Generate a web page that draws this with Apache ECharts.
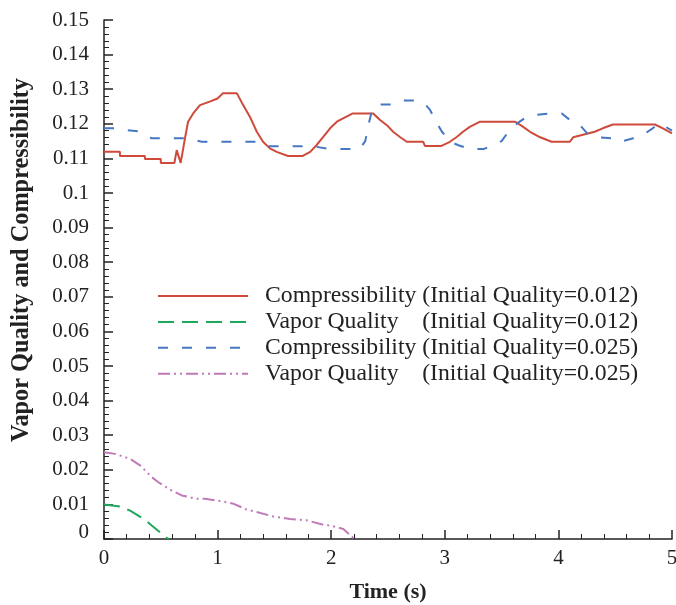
<!DOCTYPE html>
<html><head><meta charset="utf-8">
<script src="https://cdn.jsdelivr.net/npm/echarts@6/dist/echarts.min.js"></script>
<style>html,body{margin:0;padding:0;background:#fff}#c{width:676px;height:605px}</style>
</head><body><div id="c"></div>
<script>
var xTicks = [0, 1, 2, 3, 4, 5];
var yTicks = [0, 0.01, 0.02, 0.03, 0.04, 0.05, 0.06, 0.07, 0.08, 0.09, 0.1, 0.11, 0.12, 0.13, 0.14, 0.15];
var xTitle = 'Time (s)';
var yTitle = 'Vapor Quality and Compressibility';
var seriesNames = [
  'Compressibility (Initial Quality=0.012)',
  'Vapor Quality    (Initial Quality=0.012)',
  'Compressibility (Initial Quality=0.025)',
  'Vapor Quality    (Initial Quality=0.025)'
];
var comp012 = [[0,0.1119],[0.14,0.1119],[0.14,0.1107],[0.36,0.1107],[0.36,0.1098],[0.50,0.1098],[0.50,0.1087],[0.62,0.1087],[0.64,0.1124],[0.675,0.1087],[0.715,0.1162],[0.74,0.1206],[0.785,0.123],[0.845,0.1254],[0.93,0.1264],[1.0,0.1273],[1.045,0.1288],[1.17,0.1288],[1.225,0.1254],[1.285,0.122],[1.345,0.1177],[1.4,0.1148],[1.46,0.1129],[1.52,0.1119],[1.62,0.1107],[1.75,0.1107],[1.815,0.1119],[1.87,0.1138],[1.93,0.1162],[1.99,0.1187],[2.05,0.1206],[2.10,0.1215],[2.19,0.123],[2.37,0.123],[2.43,0.1211],[2.49,0.1196],[2.545,0.1177],[2.605,0.1162],[2.665,0.1148],[2.81,0.1148],[2.825,0.1136],[2.97,0.1136],[3.045,0.1148],[3.105,0.1162],[3.16,0.1177],[3.22,0.1191],[3.31,0.1206],[3.62,0.1206],[3.69,0.1191],[3.75,0.1177],[3.84,0.1161],[3.94,0.1148],[4.10,0.1148],[4.13,0.1161],[4.26,0.1172],[4.32,0.1177],[4.39,0.1187],[4.48,0.1198],[4.85,0.1198],[4.92,0.1187],[5.0,0.1172]];
var quality012 = [[0,0.01],[0.14,0.0094],[0.23,0.0082],[0.36,0.0056],[0.42,0.0039],[0.55,0.0004],[0.57,0]];
var comp025 = [[0,0.1187],[0.12,0.1187],[0.2,0.1182],[0.32,0.1178],[0.42,0.1158],[0.73,0.1158],[0.86,0.1148],[1.35,0.1148],[1.46,0.1135],[1.84,0.1135],[1.99,0.1127],[2.25,0.1127],[2.30,0.1150],[2.33,0.1200],[2.36,0.1240],[2.40,0.1256],[2.52,0.1256],[2.60,0.1267],[2.77,0.1267],[2.83,0.1255],[2.87,0.1240],[2.93,0.1202],[2.975,0.1177],[3.05,0.1148],[3.12,0.1138],[3.22,0.1127],[3.34,0.1127],[3.44,0.1140],[3.50,0.1150],[3.57,0.1182],[3.64,0.1202],[3.72,0.1220],[3.79,0.1225],[3.93,0.1230],[4.03,0.1230],[4.12,0.1206],[4.19,0.1196],[4.26,0.1170],[4.34,0.1161],[4.47,0.1158],[4.54,0.1148],[4.66,0.1158],[4.74,0.1167],[4.83,0.1187],[4.89,0.1202],[5.0,0.1180]];
var quality025 = [[0,0.0251],[0.097,0.0246],[0.229,0.0232],[0.317,0.0213],[0.42,0.0179],[0.478,0.0164],[0.596,0.014],[0.684,0.0126],[0.816,0.0116],[0.889,0.0116],[1.036,0.0109],[1.138,0.0102],[1.256,0.0085],[1.344,0.0078],[1.49,0.0065],[1.637,0.0058],[1.784,0.0054],[1.93,0.0041],[1.99,0.0039],[2.107,0.0029],[2.195,0.0003],[2.21,0]];

var font = '"Liberation Serif","Times New Roman",serif';
var chart = echarts.init(document.getElementById('c'), null, {renderer: 'canvas'});
function mk(name, data, color, type) {
  return {name: name, type: 'line', data: data, symbol: 'none', showSymbol: false,
    lineStyle: {color: color, width: 2, type: type}, itemStyle: {color: color}, animation: false};
}
chart.setOption({
  animation: false,
  grid: {left: 104, right: 4, top: 20, bottom: 66, containLabel: false, outerBoundsMode: 'none'},
  legend: {
    orient: 'vertical', left: 152, top: 279, itemWidth: 90, itemHeight: 14, itemGap: 1.9,
    itemStyle: {opacity: 0},
    textStyle: {fontFamily: font, fontSize: 23.7, color: '#222', padding: [0, 0, 0, 12]},
    data: seriesNames.map(function (n) { return {name: n}; })
  },
  graphic: [{
    type: 'text', x: 22, y: 260, rotation: Math.PI / 2,
    style: {text: yTitle, font: 'bold 24.3px ' + font, fill: '#222', align: 'center', verticalAlign: 'middle'}
  }],
  xAxis: {
    type: 'value', min: 0, max: 5, interval: 1,
    name: xTitle, nameLocation: 'middle', nameGap: 42,
    nameTextStyle: {fontFamily: font, fontSize: 22, fontWeight: 'bold', color: '#222'},
    axisLine: {show: true, lineStyle: {color: '#222', width: 1.5}},
    axisTick: {show: true, inside: true, length: 9, lineStyle: {color: '#222', width: 1.5}},
    minorTick: {show: true, splitNumber: 5, length: 5, lineStyle: {color: '#222', width: 1}},
    axisLabel: {fontFamily: font, fontSize: 21, color: '#222', margin: 9,
      formatter: function (v) { return xTicks.indexOf(v) >= 0 ? String(v) : ''; }},
    splitLine: {show: false}
  },
  yAxis: {
    type: 'value', min: 0, max: 0.15, interval: 0.01,
    axisLine: {show: true, lineStyle: {color: '#222', width: 1.5}},
    axisTick: {show: true, inside: true, length: 9, lineStyle: {color: '#222', width: 1.5}},
    minorTick: {show: true, splitNumber: 5, length: 5, lineStyle: {color: '#222', width: 1}},
    axisLabel: {fontFamily: font, fontSize: 21, color: '#222', margin: 15,
      rich: {z: {fontFamily: font, fontSize: 21, color: '#222', padding: [0, 0, 14, 0]}},
      formatter: function (v) {
        var r = Math.round(v * 1000) / 1000;
        if (Math.abs(r) < 1e-9) return '{z|0}';
        for (var i = 0; i < yTicks.length; i++) { if (Math.abs(yTicks[i] - r) < 1e-9) return String(yTicks[i]); }
        return '';
      }},
    splitLine: {show: false}
  },
  series: [
    mk(seriesNames[0], comp012, '#cf4a3b', 'solid'),
    mk(seriesNames[1], quality012, '#1ea85c', [16, 8]),
    mk(seriesNames[2], comp025, '#4677c2', [10, 14]),
    mk(seriesNames[3], quality025, '#c07ab8', [12, 4, 2, 4, 2, 4])
  ]
});
</script></body></html>
